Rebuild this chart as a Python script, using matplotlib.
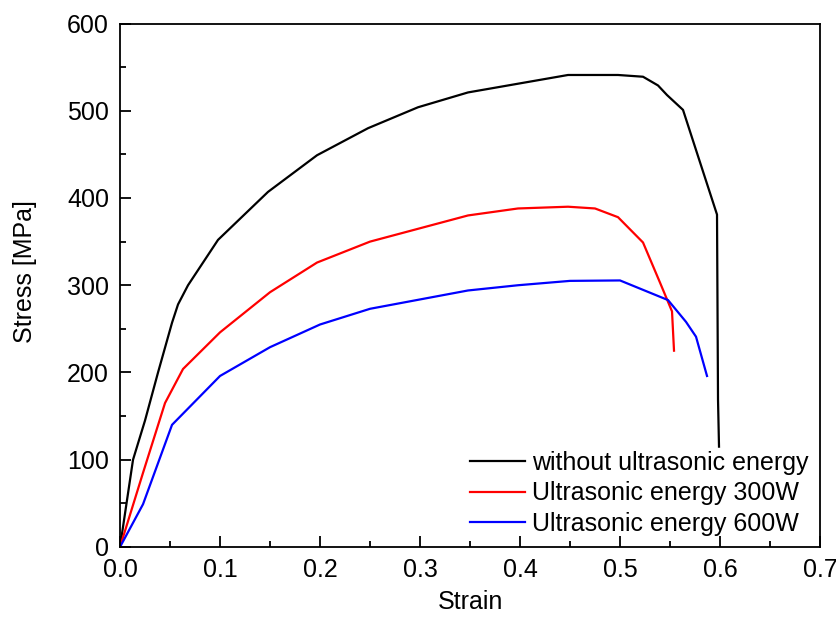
import matplotlib.pyplot as plt
from matplotlib.ticker import MultipleLocator

plt.rcParams['font.family'] = ['Liberation Sans', 'DejaVu Sans']

# strain / stress readings
strain_0 = [0.0, 0.013, 0.025, 0.038, 0.052, 0.058, 0.068, 0.098, 0.148, 0.197, 0.248, 0.298,
            0.348, 0.448, 0.498, 0.523, 0.538, 0.547, 0.563, 0.578, 0.597, 0.598, 0.599]
stress_0 = [0, 100, 145, 200, 257, 278, 300, 352, 407, 449, 480, 504,
            521, 541, 541, 539, 529, 518, 501, 448, 381, 169, 115]

strain_300 = [0.0, 0.023, 0.045, 0.063, 0.1, 0.15, 0.197, 0.25, 0.348, 0.398, 0.448,
              0.475, 0.498, 0.523, 0.54, 0.552, 0.554]
stress_300 = [0, 85, 165, 204, 246, 292, 326, 350, 380, 388, 390,
              388, 378, 349, 303, 270, 225]

strain_600 = [0.0, 0.023, 0.052, 0.1, 0.15, 0.2, 0.25, 0.348, 0.398, 0.45, 0.5,
              0.548, 0.566, 0.576, 0.587]
stress_600 = [0, 49, 140, 196, 229, 255, 273, 294, 300, 305, 305.5,
              283, 258, 241, 196]

labels = ['without ultrasonic energy', 'Ultrasonic energy 300W', 'Ultrasonic energy 600W']

fig = plt.figure(figsize=(8.37, 6.17), dpi=100)
ax = fig.add_axes([0.1434, 0.1135, 0.8363, 0.8484])

ax.plot(strain_0, stress_0, color='black', lw=1.6, label=labels[0])
ax.plot(strain_300, stress_300, color='red', lw=1.6, label=labels[1])
ax.plot(strain_600, stress_600, color='blue', lw=1.6, label=labels[2])

ax.set_xlim(0, 0.7)
ax.set_ylim(0, 600)
ax.xaxis.set_major_locator(MultipleLocator(0.1))
ax.xaxis.set_minor_locator(MultipleLocator(0.05))
ax.yaxis.set_major_locator(MultipleLocator(100))
ax.yaxis.set_minor_locator(MultipleLocator(50))
ax.xaxis.set_major_formatter(plt.FormatStrFormatter('%.1f'))
ax.tick_params(which='both', direction='in', top=False, right=False, labelsize=18,
               width=1.3, pad=8)
ax.tick_params(which='major', length=8)
ax.tick_params(which='minor', length=4.3)
for s in ax.spines.values():
    s.set_linewidth(1.3)

ax.set_xlabel('Strain', fontsize=18, labelpad=6)
ax.set_ylabel('Stress [MPa]', fontsize=18)
ax.yaxis.set_label_coords(-0.119, 0.526)

ax.legend(loc='lower right', frameon=False, fontsize=18, handlelength=2.2,
          handletextpad=0.3, labelspacing=0.25, borderaxespad=0.05,
          bbox_to_anchor=(1.0, 0.0))

fig.savefig('out.png', dpi=100)
